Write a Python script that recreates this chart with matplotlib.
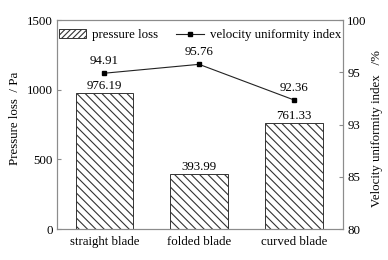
import numpy as np
import matplotlib
matplotlib.use("Agg")
import matplotlib.pyplot as plt
from matplotlib.patches import Patch
from matplotlib.lines import Line2D

plt.rcParams['font.family'] = ['Liberation Serif', 'DejaVu Serif']
plt.rcParams['hatch.linewidth'] = 0.8

blades = ['straight blade', 'folded blade', 'curved blade']
pressure_loss = [976.19, 393.99, 761.33]
uniformity = [94.91, 95.76, 92.36]
right_ticks = [80, 85, 90, 95, 100]
right_tick_labels = ['80', '85', '93', '95', '100']

fs = 9.3
frame = '#8c8c8c'

fig = plt.figure(figsize=(3.88, 2.6), dpi=100)
ax = fig.add_axes([0.147, 0.119, 0.737, 0.804])
x = np.arange(len(blades))

ax.bar(x, pressure_loss, width=0.61, color='white', edgecolor='#333333',
       hatch='\\\\\\\\', linewidth=0.7, zorder=2)
for xi, v in zip(x, pressure_loss):
    ax.text(xi, v + 10, f'{v:.2f}', ha='center', va='bottom', fontsize=fs)

ax.set_xlim(-0.5, 2.52)
ax.set_ylim(0, 1500)
ax.set_yticks([0, 500, 1000, 1500])
ax.set_xticks(x)
ax.set_xticklabels(blades, fontsize=fs)
ax.set_ylabel('Pressure loss  / Pa', fontsize=fs, labelpad=4, y=0.53)
ax.tick_params(axis='y', direction='in', length=3, labelsize=fs, color=frame, pad=3)
ax.tick_params(axis='x', length=0, labelsize=fs, pad=5)

ax2 = ax.twinx()
ax2.plot(x, uniformity, color='#222222', lw=0.8, marker='s', ms=2.6, mfc='black', mec='black')
for xi, v in zip(x, uniformity):
    ax2.text(xi, v + 0.6, f'{v:.2f}', ha='center', va='bottom', fontsize=fs)
ax2.set_ylim(80, 100)
ax2.set_yticks(right_ticks)
ax2.set_yticklabels(right_tick_labels)
ax2.set_ylabel('Velocity uniformity index   /%', fontsize=fs, labelpad=3, y=0.48)
ax2.tick_params(axis='y', direction='in', length=3, labelsize=fs, color=frame, pad=3)

for a in (ax, ax2):
    for s in a.spines.values():
        s.set_color(frame)
        s.set_linewidth(0.8)

handles = [Patch(facecolor='white', edgecolor='#333333', hatch='//////', linewidth=0.7),
           Line2D([0], [0], color='#222222', lw=0.8, marker='s', ms=2.6, mfc='black', mec='black')]
ax2.legend(handles, ['pressure loss', 'velocity uniformity index'], loc='upper center',
           ncol=2, frameon=False, fontsize=fs, handlelength=2.1, columnspacing=1.4,
           handletextpad=0.47, bbox_to_anchor=(0.5, 1.0), borderaxespad=0.3)

fig.savefig('out.png', dpi=100)
